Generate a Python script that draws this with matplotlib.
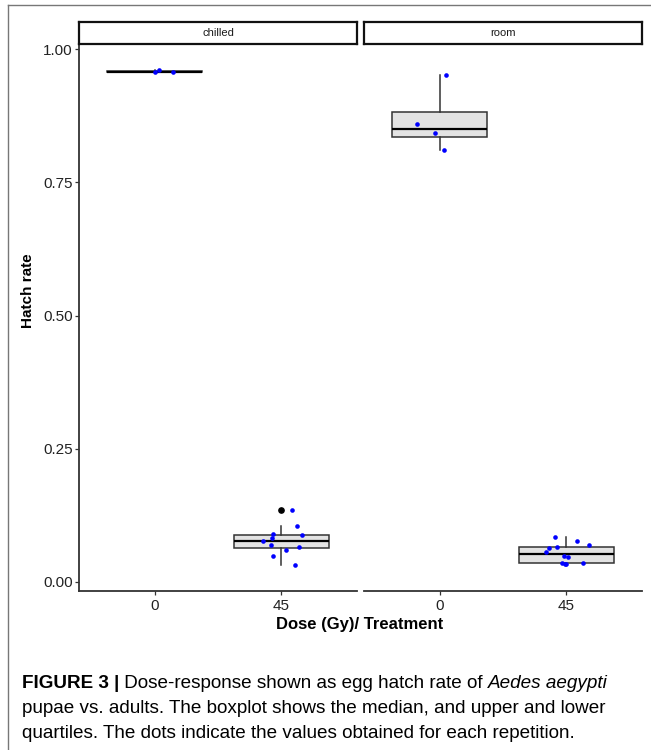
import numpy as np
import matplotlib
matplotlib.use("Agg")
import matplotlib.pyplot as plt
from matplotlib.lines import Line2D

# data
panels = ["chilled", "room"]
doses = ["0", "45"]

chilled_0 = [0.957, 0.961, 0.957]
chilled_0_jit = [0.004, 0.03, 0.147]
chilled_45 = [0.135, 0.105, 0.0895, 0.088, 0.0832, 0.0769, 0.0694, 0.0663, 0.0594, 0.0482, 0.0313]
chilled_45_jit = [0.088, 0.127, -0.064, 0.167, -0.074, -0.146, -0.082, 0.143, 0.04, -0.064, 0.111]

room_0 = [0.951, 0.859, 0.842, 0.810]
room_0_jit = [0.045, -0.18, -0.035, 0.03]
room_45 = [0.0838, 0.0763, 0.0688, 0.063, 0.065, 0.056, 0.049, 0.046, 0.0356, 0.033, 0.036, 0.0345]
room_45_jit = [-0.088, 0.082, 0.183, -0.135, -0.069, -0.159, -0.014, 0.018, -0.03, -0.002, 0.135, -0.01]

groups = {
    "chilled": [(chilled_0, chilled_0_jit), (chilled_45, chilled_45_jit)],
    "room": [(room_0, room_0_jit), (room_45, room_45_jit)],
}

W, H = 651, 750
fig = plt.figure(figsize=(W / 100, H / 100), dpi=100)
plt.rcParams['font.family'] = ['Liberation Sans', 'DejaVu Sans']

def px(x0, y0, x1, y1):
    return [x0 / W, 1 - y1 / H, (x1 - x0) / W, (y1 - y0) / H]

dark = '#333333'
lefts = [79, 364]
for i, name in enumerate(panels):
    ax = fig.add_axes(px(lefts[i], 44, lefts[i] + 278, 591))
    for j, (vals, jit) in enumerate(groups[name]):
        ax.boxplot(vals, positions=[j], widths=0.75, patch_artist=True,
                   showcaps=False, whis=1.5,
                   boxprops=dict(facecolor='#e3e3e3', edgecolor=dark, lw=1.1),
                   medianprops=dict(color='black', lw=1.6),
                   whiskerprops=dict(color=dark, lw=1.1),
                   flierprops=dict(marker='o', markerfacecolor='black',
                                   markeredgecolor='black', markersize=3.8))
        ax.scatter(np.array(jit) + j, vals, s=11, color='blue', zorder=3, lw=0)
    ax.set_xlim(-0.6, 1.6)
    ax.set_ylim(-0.0169, 1.0094)
    ax.set_xticks([0, 1])
    ax.set_xticklabels(doses, fontsize=11, color='#222222')
    for s in ['top', 'right']:
        ax.spines[s].set_visible(False)
    ax.spines['bottom'].set_color(dark)
    ax.spines['bottom'].set_linewidth(1.3)
    ax.tick_params(axis='x', length=3, width=0.9, color=dark, pad=3)
    if i == 0:
        ax.set_yticks([0, 0.25, 0.5, 0.75, 1.0])
        ax.set_yticklabels(["0.00", "0.25", "0.50", "0.75", "1.00"], fontsize=11, color='#222222')
        ax.spines['left'].set_color(dark)
        ax.spines['left'].set_linewidth(1.3)
        ax.tick_params(axis='y', length=3, width=0.9, color=dark, pad=1.5)
    else:
        ax.spines['left'].set_visible(False)
        ax.set_yticks([])
    # strip header
    sx = fig.add_axes(px(lefts[i], 22, lefts[i] + 278, 44))
    sx.set_xticks([])
    sx.set_yticks([])
    for s in sx.spines.values():
        s.set_linewidth(1.6)
        s.set_color('#111111')
    sx.text(0.5, 0.5, name, ha='center', va='center', fontsize=8, color='#1a1a1a')

fig.text(28 / W, 1 - 291 / H, "Hatch rate", rotation=90, ha='center', va='center',
         fontsize=11, fontweight='bold')
fig.text(360 / W, 1 - 625 / H, "Dose (Gy)/ Treatment", ha='center', va='center',
         fontsize=12, fontweight='bold')

# frame lines
fig.add_artist(Line2D([8 / W, 1], [1 - 5 / H, 1 - 5 / H], color='#777777', lw=1))
fig.add_artist(Line2D([8 / W, 8 / W], [0, 1 - 5 / H], color='#777777', lw=1))

# caption
cs = 13.6
fig.canvas.draw()
r = fig.canvas.get_renderer()
x0 = 22
y1 = 1 - 688 / H
t = fig.text(x0 / W, y1, "FIGURE 3 |", fontsize=cs, fontweight='bold', va='baseline')
bb = t.get_window_extent(r)
t2 = fig.text(bb.x1 / W, y1, " Dose-response shown as egg hatch rate of ", fontsize=cs, va='baseline')
bb2 = t2.get_window_extent(r)
fig.text(bb2.x1 / W, y1, "Aedes aegypti", fontsize=cs, style='italic', va='baseline')
fig.text(x0 / W, 1 - 713 / H, "pupae vs. adults. The boxplot shows the median, and upper and lower",
         fontsize=cs, va='baseline')
fig.text(x0 / W, 1 - 738 / H, "quartiles. The dots indicate the values obtained for each repetition.",
         fontsize=cs, va='baseline')

fig.savefig("out.png", dpi=100)
